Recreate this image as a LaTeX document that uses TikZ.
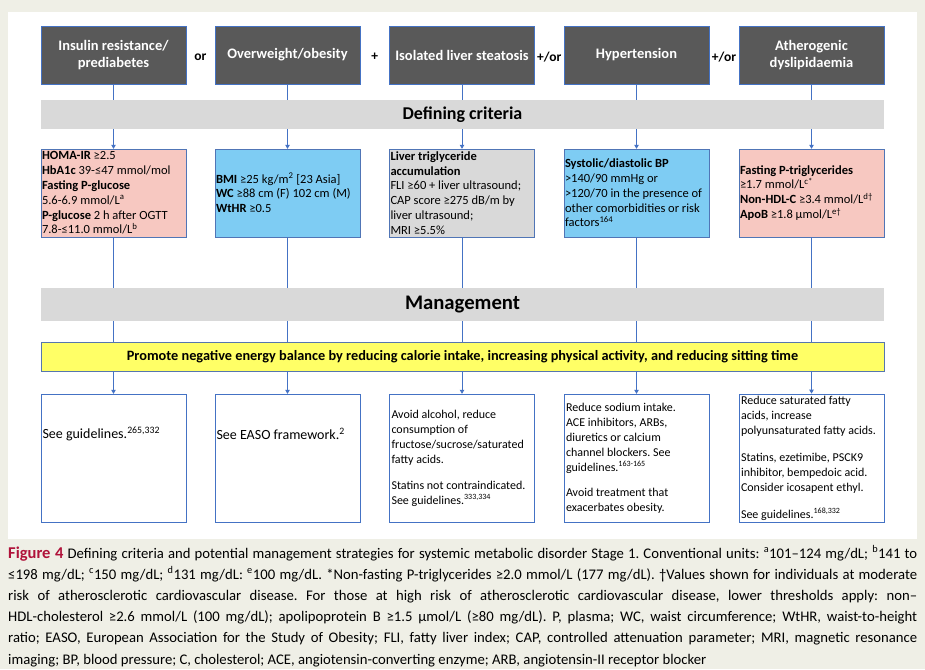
\documentclass[tikz,border=0pt]{standalone}
\usepackage{fontspec}
\setmainfont{Carlito}
\usepackage{xcolor}
\usetikzlibrary{arrows.meta, positioning}
\definecolor{pagebg}{HTML}{EFEFE6}
\definecolor{darkbox}{HTML}{595959}
\definecolor{bargray}{HTML}{D9D9D9}
\definecolor{linkblue}{HTML}{4472C4}
\definecolor{rosefill}{HTML}{F7C8C1}
\definecolor{skyfill}{HTML}{7ECCF3}
\definecolor{lemonfill}{HTML}{FFFF66}
\definecolor{figred}{HTML}{B0123A}
\frenchspacing

\begin{document}
\begin{tikzpicture}[x=1pt, y=-1pt,
    condbox/.style={draw=linkblue, fill=darkbox, text=white, align=center,
      font=\fontsize{14.5}{17}\selectfont\bfseries,
      minimum width=145pt, minimum height=58pt, inner sep=2pt},
    opword/.style={font=\fontsize{13.5}{15}\selectfont\bfseries, inner sep=1pt},
    bandbar/.style={fill=bargray, minimum width=843pt, inner sep=0pt},
    critbox/.style={draw=linkblue!80!gray, text width=143pt, align=flush left,
      font=\fontsize{12.5}{14.8}\selectfont, minimum height=88pt,
      inner xsep=1pt, inner ysep=2pt},
    actbox/.style={draw=linkblue, text width=141pt, align=flush left,
      font=\fontsize{12}{15}\selectfont, minimum height=128pt, inner sep=2pt},
    link/.style={linkblue, line width=0.8pt},
    tip/.style={-{Triangle[width=4.5pt, length=4pt]}}
  ]
    \useasboundingbox (0,0) rectangle (925,669);
    \fill[pagebg] (0,0) rectangle (925,669);
    \fill[white] (8,12) rectangle (917,539);

    % conditions
    \foreach \i/\x/\t in {1/113.5/{Insulin resistance/\\prediabetes},
        2/287.5/{Overweight/obesity}, 3/462/{Isolated liver steatosis},
        4/636.5/{Hypertension}, 5/811.5/{Atherogenic\\dyslipidaemia}} {
      \node[condbox] (top\i) at (\x,55) {\t};
    }
    \path (top1) -- (top2) node[midway, opword, yshift=-2pt] (op1) {or};
    \path (top2) -- (top3) node[midway, opword, yshift=-2pt] (op2) {+};
    \path (top3) -- (top4) node[midway, opword, yshift=-2pt] (op3) {+/or};
    \path (top4) -- (top5) node[midway, opword, yshift=-2pt] (op4) {+/or};

    \node[bandbar, minimum height=29pt, font=\fontsize{18}{20}\selectfont\bfseries]
      (defbar) at (462.5,114.5) {Defining criteria};

    % defining criteria
    \node[critbox, fill=rosefill] (crit1) at (113.5,193) {%
      \textbf{HOMA-IR} ≥2.5\\
      \textbf{HbA1c} 39-≤47 mmol/mol\\
      \textbf{Fasting P-glucose}\\
      5.6-6.9 mmol/L\textsuperscript{a}\\
      \textbf{P-glucose} 2 h after OGTT\\
      7.8-≤11.0 mmol/L\textsuperscript{b}};
    \node[critbox, fill=skyfill] (crit2) at (287.5,193) {%
      \textbf{BMI} ≥25 kg/m\textsuperscript{2} [23 Asia]\\
      \textbf{WC} ≥88 cm (F) 102 cm (M)\\
      \textbf{WtHR} ≥0.5};
    \node[critbox, fill=bargray] (crit3) at (462,193) {%
      \textbf{Liver triglyceride}\\
      \textbf{accumulation}\\
      FLI ≥60 + liver ultrasound;\\
      CAP score ≥275 dB/m by\\
      liver ultrasound;\\
      MRI ≥5.5\%};
    \node[critbox, fill=skyfill] (crit4) at (636.5,193) {%
      \textbf{Systolic/diastolic BP}\\
      >140/90 mmHg or\\
      >120/70 in the presence of\\
      other comorbidities or risk\\
      factors\textsuperscript{164}};
    \node[critbox, fill=rosefill] (crit5) at (811.5,193) {%
      \textbf{Fasting P-triglycerides}\\
      ≥1.7 mmol/L\textsuperscript{c*}\\
      \textbf{Non-HDL-C} ≥3.4 mmol/L\textsuperscript{d†}\\
      \textbf{ApoB} ≥1.8 µmol/L\textsuperscript{e†}};

    \node[bandbar, minimum height=33pt, font=\fontsize{20.7}{22}\selectfont\bfseries]
      (mgmtbar) at (462.5,304.5) {Management};
    \node[bandbar, fill=lemonfill, draw=linkblue!70!gray, minimum height=29pt,
      font=\fontsize{14.3}{16}\selectfont\bfseries]
      (actbar) at (462.5,356.5) {Promote negative energy balance by reducing calorie intake, increasing physical activity, and reducing sitting time};

    % management
    \node[actbox] (act1) at (113.5,458) {};
    \node[actbox] (act2) at (287.5,458) {};
    \node[actbox] (act3) at (462,458) {%
      Avoid alcohol, reduce\\
      consumption of\\
      fructose/sucrose/saturated\\
      fatty acids.\\[11pt]
      Statins not contraindicated.\\
      See guidelines.\textsuperscript{333,334}};
    \node[actbox] (act4) at (636.5,458) {%
      Reduce sodium intake.\\
      ACE inhibitors, ARBs,\\
      diuretics or calcium\\
      channel blockers. See\\
      guidelines.\textsuperscript{163-165}\\[10pt]
      Avoid treatment that\\
      exacerbates obesity.};
    \node[actbox] (act5) at (811.5,458) {%
      Reduce saturated fatty\\
      acids, increase\\
      polyunsaturated fatty acids.\\[12pt]
      Statins, ezetimibe, PSCK9\\
      inhibitor, bempedoic acid.\\
      Consider icosapent ethyl.\\[12pt]
      See guidelines.\textsuperscript{168,332}};
    \node[font=\fontsize{14}{16}\selectfont, anchor=west, inner sep=0pt]
      (note1) at ([xshift=1.5pt]act1.west |- 0,434) {See guidelines.\textsuperscript{265,332}};
    \node[font=\fontsize{14}{16}\selectfont, anchor=west, inner sep=0pt]
      (note2) at ([xshift=1.5pt]act2.west |- 0,434) {See EASO framework.\textsuperscript{2}};

    % connectors
    \foreach \i in {1,...,5} {
      \draw[link] (top\i.south) -- (top\i.south |- defbar.north);
      \draw[link, tip] (top\i.south |- defbar.south) -- (crit\i.north);
      \draw[link] (crit\i.south) -- (crit\i.south |- mgmtbar.north);
      \draw[link] (crit\i.south |- mgmtbar.south) -- (crit\i.south |- actbar.north);
      \draw[link, tip] (crit\i.south |- actbar.south) -- (act\i.north);
    }

    % caption
    \node[anchor=base west, text width=909pt, align=justify, inner sep=0pt,
      font=\fontsize{14.7}{21.2}\selectfont] (caption) at (8,558) {%
      {\color{figred}\fontsize{16.5}{21.2}\selectfont\bfseries Figure 4} Defining criteria and potential management strategies for systemic metabolic disorder Stage 1. Conventional units: \textsuperscript{a}101–124 mg/dL; \textsuperscript{b}141 to\linebreak
      ≤198 mg/dL; \textsuperscript{c}150 mg/dL; \textsuperscript{d}131 mg/dL: \textsuperscript{e}100 mg/dL. *Non-fasting P-triglycerides ≥2.0 mmol/L (177 mg/dL). †Values shown for individuals at moderate\linebreak
      risk of atherosclerotic cardiovascular disease. For those at high risk of atherosclerotic cardiovascular disease, lower thresholds apply: non–\linebreak
      HDL-cholesterol ≥2.6 mmol/L (100 mg/dL); apolipoprotein B ≥1.5 µmol/L (≥80 mg/dL). P, plasma; WC, waist circumference; WtHR, waist-to-height\linebreak
      ratio; EASO, European Association for the Study of Obesity; FLI, fatty liver index; CAP, controlled attenuation parameter; MRI, magnetic resonance\linebreak
      imaging; BP, blood pressure; C, cholesterol; ACE, angiotensin-converting enzyme; ARB, angiotensin-II receptor blocker};
  \end{tikzpicture}
\end{document}
